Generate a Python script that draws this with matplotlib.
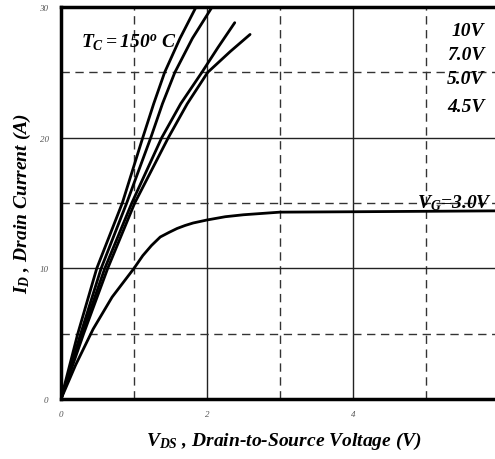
import matplotlib
matplotlib.use("Agg")
import matplotlib.pyplot as plt
from matplotlib.ticker import MultipleLocator

plt.rcParams['mathtext.fontset'] = 'custom'
plt.rcParams['mathtext.rm'] = 'Liberation Serif:bold:italic'
plt.rcParams['mathtext.it'] = 'Liberation Serif:bold:italic'
plt.rcParams['mathtext.bf'] = 'Liberation Serif:bold:italic'

# Data
v_10 = [0, 0.23, 0.49, 0.84, 1.12, 1.27, 1.42, 1.63, 1.85]
i_10 = [0, 5, 10, 15, 20, 22.6, 25, 27.6, 30]
v_7 = [0, 0.27, 0.55, 0.90, 1.23, 1.39, 1.56, 1.80, 2.07]
i_7 = [0, 5, 10, 15, 20, 22.6, 25, 27.6, 30]
v_5 = [0, 0.29, 0.60, 0.97, 1.38, 1.64, 1.93, 2.15, 2.38]
i_5 = [0, 5, 10, 15, 20, 22.6, 25, 26.9, 28.8]
v_45 = [0, 0.31, 0.64, 1.01, 1.47, 1.73, 2.01, 2.32, 2.59]
i_45 = [0, 5, 10, 15, 20, 22.6, 25, 26.6, 27.9]
v_3 = [0, 0.2, 0.44, 0.7, 1.0, 1.12, 1.24, 1.36, 1.48, 1.59, 1.7, 1.81, 2.0, 2.25, 2.5, 3.0, 4.0, 6.0]
i_3 = [0, 2.6, 5.35, 7.8, 10, 10.97, 11.75, 12.4, 12.75, 13.05, 13.28, 13.47, 13.7, 13.95, 14.1, 14.3, 14.33, 14.4]

curve_labels = ["10V", "7.0V", "5.0V", "4.5V"]
label_y = [28.2, 26.4, 24.5, 22.4]

fig = plt.figure(figsize=(4.95, 4.6), dpi=100)
ax = fig.add_axes([61/495, 60/460, 438/495, 392/460])

for v, i in [(v_10, i_10), (v_7, i_7), (v_5, i_5), (v_45, i_45), (v_3, i_3)]:
    ax.plot(v, i, color='black', lw=2.0, solid_capstyle='round',
            solid_joinstyle='round', zorder=3)

ax.set_xlim(0, 6)
ax.set_ylim(0, 30)
ax.xaxis.set_major_locator(MultipleLocator(2))
ax.xaxis.set_minor_locator(MultipleLocator(1))
ax.yaxis.set_major_locator(MultipleLocator(10))
ax.yaxis.set_minor_locator(MultipleLocator(5))
ax.grid(which='major', color='#222222', lw=1.0, ls='-')
ax.grid(which='minor', color='#333333', lw=1.0, ls=(0, (6, 4)))
ax.set_axisbelow(True)
ax.tick_params(which='both', length=0)
ax.tick_params(axis='x', pad=8)
ax.tick_params(axis='y', pad=9)
for lab in ax.get_xticklabels() + ax.get_yticklabels():
    lab.set_fontfamily('Liberation Serif')
    lab.set_fontstyle('italic')
    lab.set_fontsize(6.5)
    lab.set_color('#555555')

for s in ['left', 'bottom', 'top']:
    ax.spines[s].set_linewidth(2.5)
ax.spines['right'].set_visible(False)

ax.set_xlabel(r'$V_{DS}$ , Drain-to-Source Voltage (V)', fontfamily='Liberation Serif',
              fontstyle='italic', fontweight='bold', fontsize=14)
ax.xaxis.set_label_coords(0.51, -0.08)
ax.set_ylabel(r'$I_D$ , Drain Current (A)', fontfamily='Liberation Serif',
              fontstyle='italic', fontweight='bold', fontsize=14)
ax.yaxis.set_label_coords(-0.063, 0.5)

ax.text(0.28, 27.3, r'$T_C = 150^o$ C', fontfamily='Liberation Serif', fontstyle='italic',
        fontweight='bold', fontsize=14, ha='left', va='center')

for lab, y in zip(curve_labels, label_y):
    ax.text(5.8, y, lab, fontfamily='Liberation Serif', fontstyle='italic',
            fontweight='bold', fontsize=14, ha='right', va='center')

ax.text(4.87, 15.05, r'$V_G$=3.0V', fontfamily='Liberation Serif', fontstyle='italic',
        fontweight='bold', fontsize=14, ha='left', va='center')

fig.savefig('out.png', dpi=100)
